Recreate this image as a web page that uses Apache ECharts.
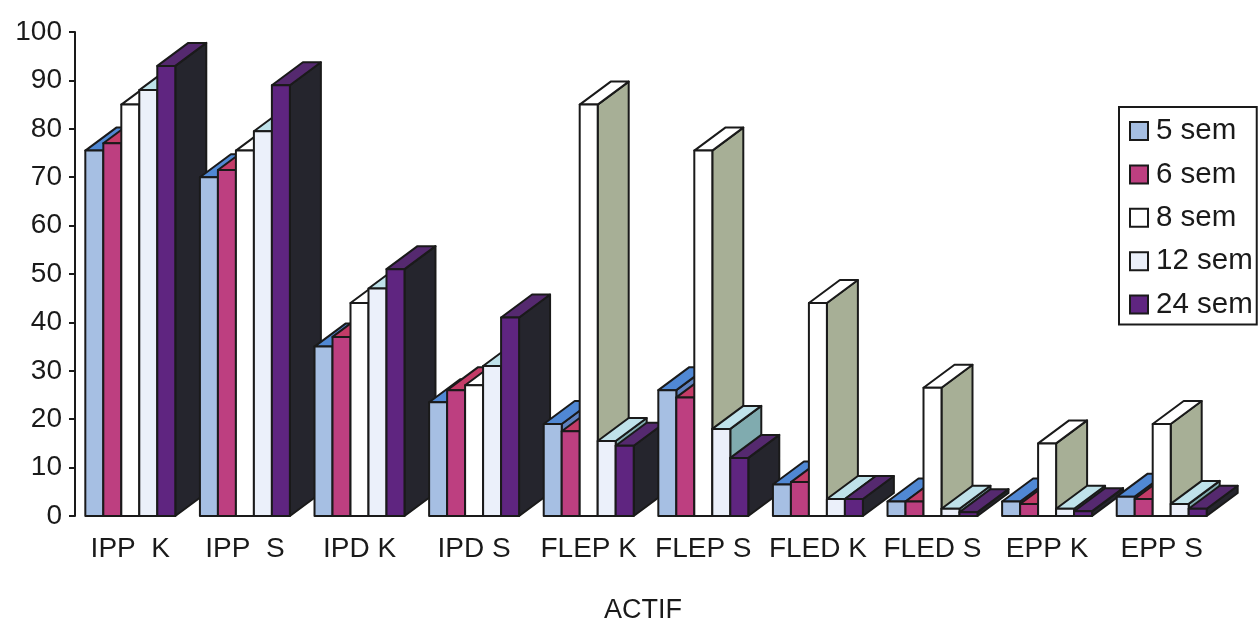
<!DOCTYPE html>
<html>
<head>
<meta charset="utf-8">
<style>html,body{margin:0;padding:0;background:#fff}#c{width:1258px;height:622px}</style>
<script src="https://cdn.jsdelivr.net/npm/echarts@6/dist/echarts.min.js"></script>
</head>
<body>
<div id="c"></div>
<script>
var categories = ['IPP  K','IPP  S','IPD K','IPD S','FLEP K','FLEP S','FLED K','FLED S','EPP K','EPP S'];
var sem5  = [75.5, 70, 35, 23.5, 19, 26, 6.5, 3, 3, 4];
var sem6  = [77, 71.5, 37, 26, 17.5, 24.5, 7, 3, 2.5, 3.5];
var sem8  = [85, 75.5, 44, 27, 85, 75.5, 44, 26.5, 15, 19];
var sem12 = [88, 79.5, 47, 31, 15.5, 18, 3.5, 1.5, 1.5, 2.5];
var sem24 = [93, 89, 51, 41, 14.5, 12, 3.5, 0.8, 1, 1.5];
var seriesNames = ['5 sem','6 sem','8 sem','12 sem','24 sem'];
var seriesValues = [sem5, sem6, sem8, sem12, sem24];
var frontColors = ['#a6bfe3','#bd3f80','#ffffff','#ebf0fa','#5f2580'];
var topColors   = ['#5088d4','#c43c68','#ffffff','#bfe2ea','#55296f'];
var sideColors  = ['#5f82bf','#8e2c5c','#a7af96','#80abaf','#25252d'];

var FONT = '"Liberation Sans", Arial, sans-serif';
var INK = '#1a1a1a';
var DEPTH_X = 31, DEPTH_Y = 23, BAR_SHARE = 0.157;

function makeRender(si) {
  return function (params, api) {
    var cat = api.value(0);
    var p = api.coord([cat, api.value(1)]);
    var base = api.coord([cat, 0]);
    var w = api.size([1, 0])[0] * BAR_SHARE;
    var x0 = p[0] - 2.5 * w + si * w, x1 = x0 + w, yt = p[1], yb = base[1];
    var z = cat * 100 + si * 10;
    var st = { stroke: INK, lineWidth: 2, lineJoin: 'round' };
    function poly(points, fill, dz) {
      return { type: 'polygon', z2: z + dz, shape: { points: points },
               style: Object.assign({ fill: fill }, st) };
    }
    return { type: 'group', children: [
      poly([[x1,yt],[x1+DEPTH_X,yt-DEPTH_Y],[x1+DEPTH_X,yb-DEPTH_Y],[x1,yb]], sideColors[si], 0),
      poly([[x0,yt],[x0+DEPTH_X,yt-DEPTH_Y],[x1+DEPTH_X,yt-DEPTH_Y],[x1,yt]], topColors[si], 1),
      poly([[x0,yt],[x1,yt],[x1,yb],[x0,yb]], frontColors[si], 2)
    ]};
  };
}

var chart = echarts.init(document.getElementById('c'), null, { renderer: 'canvas' });
chart.setOption({
  animation: false,
  backgroundColor: '#ffffff',
  grid: { left: 73, width: 1146, top: 32, bottom: 106, containLabel: false, outerBoundsMode: 'none' },
  legend: {
    orient: 'vertical', left: 1119, top: 107, icon: 'rect',
    itemWidth: 18, itemHeight: 18, itemGap: 13.4,
    padding: [9, 4, 5, 10],
    backgroundColor: '#ffffff', borderColor: INK, borderWidth: 2,
    textStyle: { fontFamily: FONT, fontSize: 29.5, color: INK, padding: [0, 0, 0, 3] },
    data: seriesNames,
    z: 10
  },
  xAxis: {
    type: 'category', data: categories,
    name: 'ACTIF', nameLocation: 'middle', nameGap: 81,
    nameTextStyle: { fontFamily: FONT, fontSize: 27, color: INK, padding: [0, 6, 0, 0] },
    axisLine: { show: false }, axisTick: { show: false },
    axisLabel: { fontFamily: FONT, fontSize: 28, color: INK, margin: 19, interval: 0 },
    splitLine: { show: false }
  },
  yAxis: {
    type: 'value', min: 0, max: 100, interval: 10, offset: -2,
    axisLine: { show: true, lineStyle: { color: INK, width: 2 } },
    axisTick: { show: true, length: 6, lineStyle: { color: INK, width: 2 } },
    axisLabel: { fontFamily: FONT, fontSize: 28, color: INK, margin: 13 },
    splitLine: { show: false }
  },
  series: seriesNames.map(function (name, si) {
    return {
      type: 'custom', name: name, renderItem: makeRender(si),
      encode: { x: 0, y: 1 }, clip: false,
      itemStyle: { color: frontColors[si], borderColor: INK, borderWidth: 2 },
      data: seriesValues[si].map(function (v, i) { return [i, v]; })
    };
  })
});
</script>
</body>
</html>
